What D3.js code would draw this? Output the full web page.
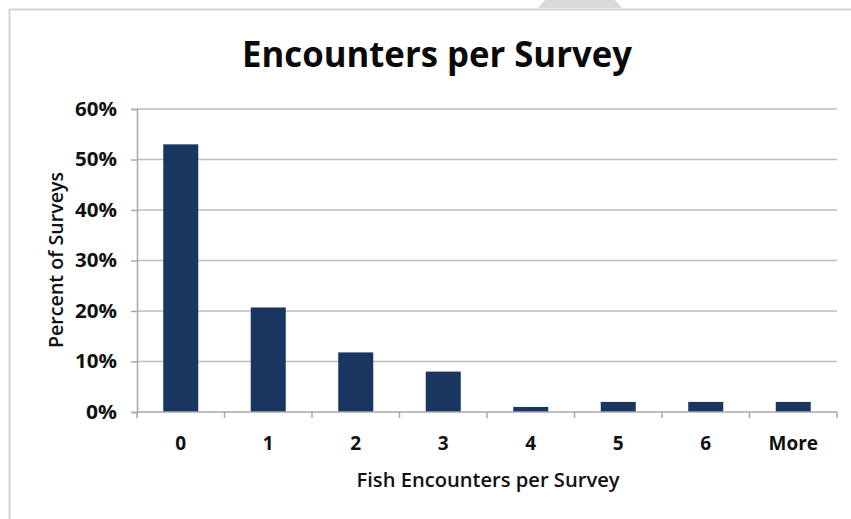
<!DOCTYPE html>
<html lang="en">
<head>
    <meta charset="UTF-8">
    <title>Encounters per Survey</title>
    <style>
        body { margin: 0; background: #fff; }
        svg { display: block; font-family: "Open Sans", "DejaVu Sans", sans-serif; }
    </style>
</head>
<body>
<svg height="519" width="851"></svg>

<script src="https://d3js.org/d3.v7.min.js"></script>
<script>

    var categories = ["0", "1", "2", "3", "4", "5", "6", "More"];
    var percentSurveys = [0.53, 0.207, 0.118, 0.08, 0.01, 0.02, 0.02, 0.02];
    var yTicks = [0, 0.1, 0.2, 0.3, 0.4, 0.5, 0.6];

    var svg = d3.select("svg"),
        margins = {top: 109, right: 14, bottom: 107, left: 137};

    var width = +svg.attr("width") - margins.left - margins.right;
    var height = +svg.attr("height") - margins.top - margins.bottom;

    // page frame + grey tab at the top (from the screenshot)
    svg.append("polygon")
        .attr("points", "545,0 615,0 622,8 538,8")
        .attr("fill", "#dadada");
    svg.append("line")
        .attr("x1", 9).attr("x2", 851).attr("y1", 9.5).attr("y2", 9.5)
        .attr("stroke", "#d2d2d2").attr("stroke-width", 2);
    svg.append("line")
        .attr("x1", 9.5).attr("x2", 9.5).attr("y1", 9).attr("y2", 519)
        .attr("stroke", "#d2d2d2").attr("stroke-width", 2);

    var x = d3.scaleBand().domain(categories).range([0, width]).paddingInner(0.6).paddingOuter(0.3);
    var xEdge = d3.scaleLinear().domain([0, categories.length]).range([0, width]);
    var y = d3.scaleLinear().domain([0, 0.6]).range([height, 0]);

    var g = svg.append("g")
        .attr("transform", "translate(" + margins.left + "," + margins.top + ")");

    // gridlines
    g.selectAll(".grid")
        .data(yTicks.slice(1))
        .enter()
        .append("line")
        .attr("x1", 0).attr("x2", width)
        .attr("y1", function(d) { return y(d); })
        .attr("y2", function(d) { return y(d); })
        .attr("stroke", "#bdbdbd").attr("stroke-width", 1.5);

    // y axis
    var yAxis = g.append("g")
        .call(d3.axisLeft(y).tickValues(yTicks).tickFormat(d3.format(".0%")).tickSize(6).tickPadding(14));
    yAxis.select(".domain").attr("stroke", "#a8a8a8").attr("stroke-width", 1.5);
    yAxis.selectAll(".tick line").attr("stroke", "#a8a8a8").attr("stroke-width", 1.5);
    yAxis.selectAll("text")
        .attr("fill", "#111").attr("font-size", 19).attr("font-weight", "bold")
        .attr("font-family", "Open Sans")
        .attr("textLength", 42).attr("lengthAdjust", "spacingAndGlyphs");
    yAxis.selectAll(".tick").filter(function(d) { return d === 0; }).select("text")
        .attr("textLength", 31);

    // bars
    g.selectAll(".bar")
        .data(percentSurveys)
        .enter()
        .append("rect")
        .attr("x", function(d, i) { return x(categories[i]); })
        .attr("width", x.bandwidth())
        .attr("y", function(d) { return y(d); })
        .attr("height", function(d) { return height - y(d); })
        .attr("fill", "#18365f");

    // x axis line and ticks at category boundaries
    g.append("line")
        .attr("x1", 0).attr("x2", width).attr("y1", height).attr("y2", height)
        .attr("stroke", "#a8a8a8").attr("stroke-width", 1.5);
    g.selectAll(".xtick")
        .data(d3.range(categories.length + 1))
        .enter()
        .append("line")
        .attr("x1", function(d) { return xEdge(d); })
        .attr("x2", function(d) { return xEdge(d); })
        .attr("y1", height).attr("y2", height + 6)
        .attr("stroke", "#a8a8a8").attr("stroke-width", 1.5);

    g.selectAll(".xlabel")
        .data(categories)
        .enter()
        .append("text")
        .attr("x", function(d) { return x(d) + x.bandwidth() / 2; })
        .attr("y", height + 38)
        .attr("text-anchor", "middle")
        .attr("font-size", 19).attr("font-weight", "bold").attr("fill", "#111")
        .text(function(d) { return d; });

    // titles
    svg.append("text")
        .attr("x", 437).attr("y", 67)
        .attr("text-anchor", "middle")
        .attr("font-size", 35).attr("font-weight", "bold").attr("fill", "#0a0a0a")
        .attr("textLength", 390).attr("lengthAdjust", "spacingAndGlyphs")
        .text("Encounters per Survey");

    svg.append("text")
        .attr("x", 488).attr("y", 487)
        .attr("text-anchor", "middle")
        .attr("font-size", 19).attr("font-weight", 600).attr("fill", "#111")
        .attr("textLength", 263).attr("lengthAdjust", "spacingAndGlyphs")
        .text("Fish Encounters per Survey");

    svg.append("text")
        .attr("transform", "translate(63,260) rotate(-90)")
        .attr("text-anchor", "middle")
        .attr("font-size", 19).attr("font-weight", 600).attr("fill", "#111")
        .attr("textLength", 176).attr("lengthAdjust", "spacingAndGlyphs")
        .text("Percent of Surveys");

</script>
</body>
</html>
